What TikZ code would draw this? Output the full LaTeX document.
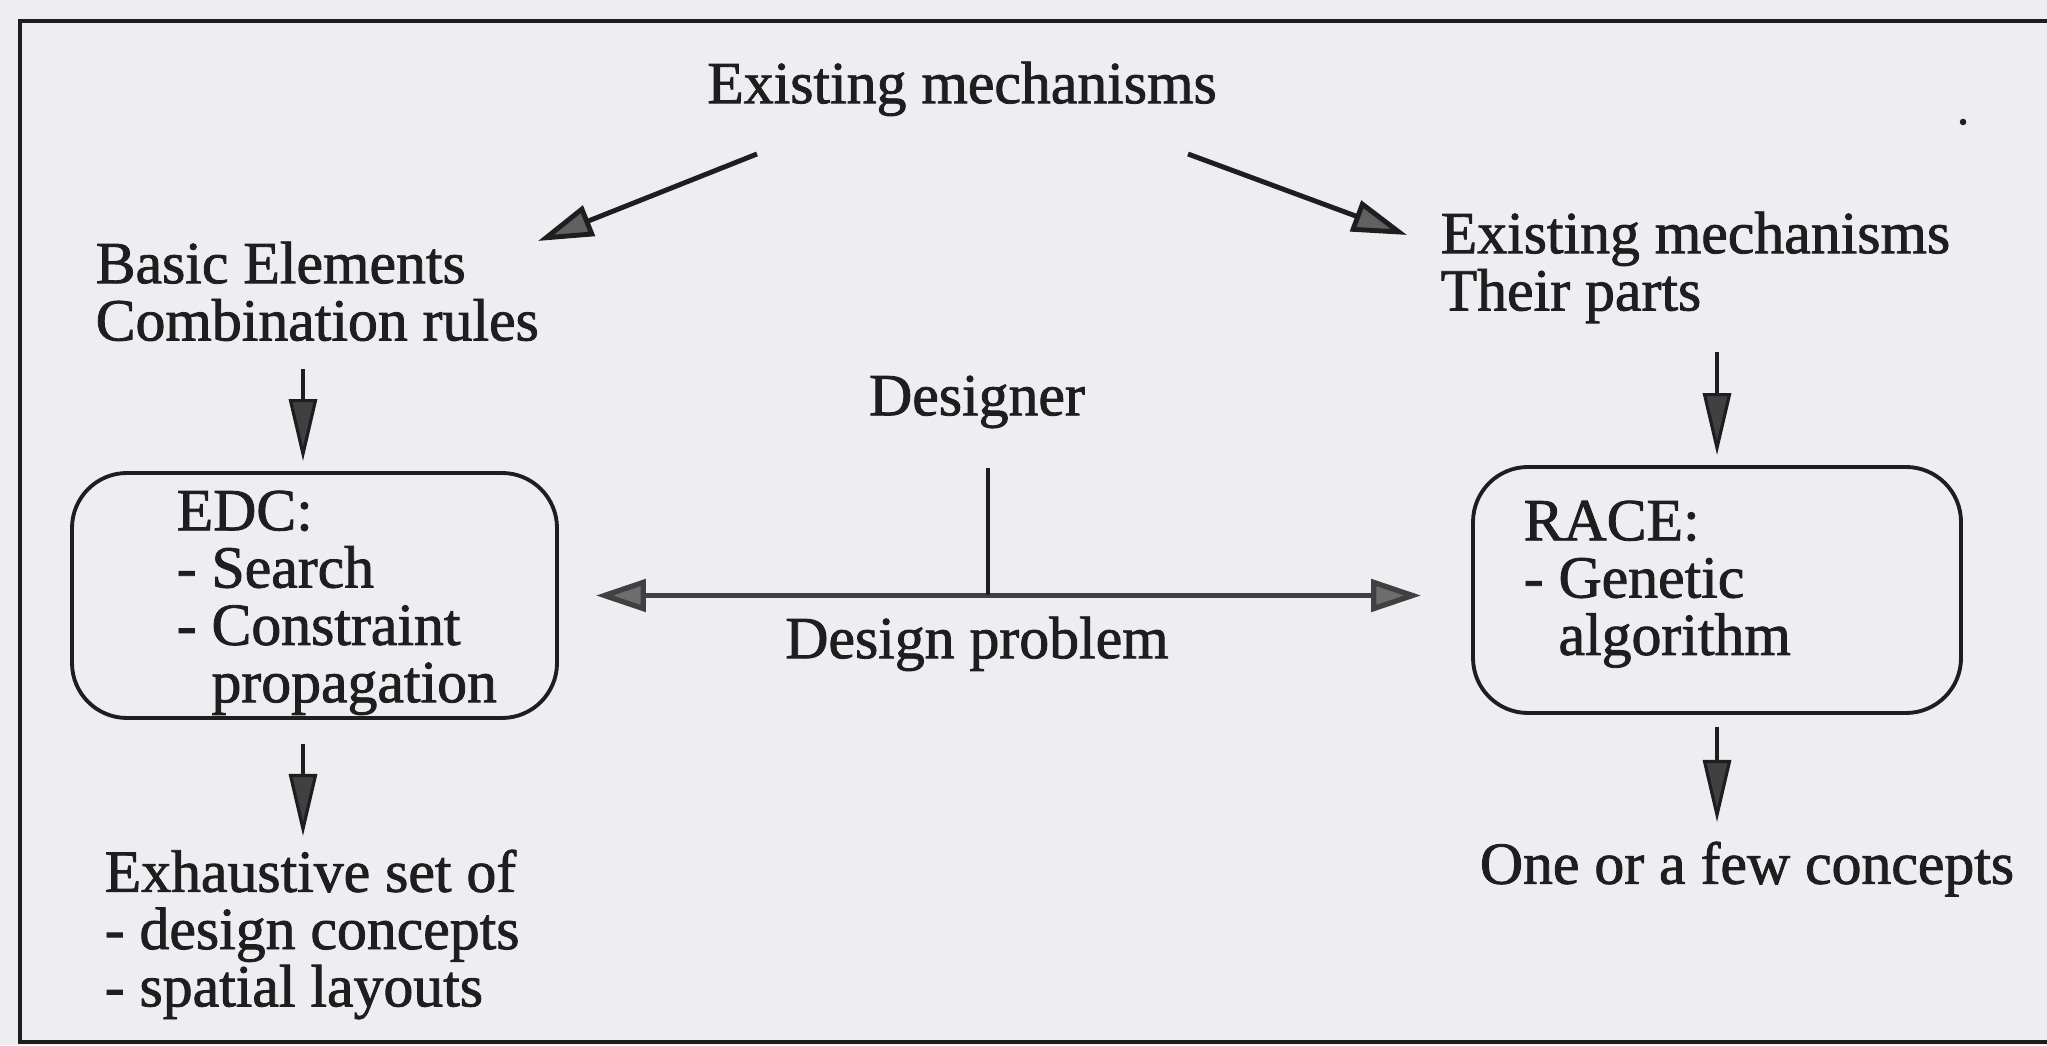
\documentclass[tikz,border=0pt]{standalone}
\usepackage{fontspec}
\setmainfont{Liberation Serif}[FakeBold=1.4]
\usepackage{tikz}
\usetikzlibrary{arrows.meta}
\definecolor{paper}{RGB}{238,238,242}
\definecolor{ink}{RGB}{30,30,30}

\begin{document}
\begin{tikzpicture}[
   txt/.style = {font=\fontsize{17}{16.3}\selectfont, text=ink, align=left, inner sep=0pt},
   box/.style = {draw=ink, line width=1.1pt, rounded corners=0.55cm},
   arr/.style = {draw=ink, line width=0.9pt, -{Triangle[length=0.62cm,width=0.28cm,fill=ink!85]}},
   slant/.style = {draw=ink, line width=1.4pt, -{Triangle[length=0.55cm,width=0.32cm,fill=ink!70]}},
   darr/.style = {draw=ink!85, line width=1.5pt, {Triangle[length=0.5cm,width=0.32cm,fill=ink!65]}-{Triangle[length=0.5cm,width=0.32cm,fill=ink!65]}}
]
   \fill[paper] (0,0) rectangle (20.47,10.45);
   \useasboundingbox (0,0) rectangle (20.47,10.45);
   \draw[ink, line width=1.2pt] (20.8,0.03) -- (0.2,0.03) -- (0.2,10.24) -- (20.8,10.24);
   \filldraw[ink] (19.63,9.23) circle (0.025);

   \node[txt, anchor=north] (top) at (9.62,9.84) {Existing mechanisms};
   \node[txt, anchor=north west] (basic) at (0.95,8.04) {Basic Elements\\Combination rules};
   \node[txt, anchor=north west] (parts) at (14.40,8.34) {Existing mechanisms\\Their parts};
   \node[txt, anchor=north] (designer) at (9.77,6.70) {Designer};
   \node[txt, anchor=north] (problem) at (9.77,4.29) {Design problem};

   \node[box, minimum width=4.85cm, minimum height=2.45cm] (edc) at (3.145,4.495) {};
   \node[txt, anchor=north west] (edctext) at (1.76,5.55) {EDC:\\- Search\\- Constraint\\\phantom{- }propagation};
   \node[box, minimum width=4.88cm, minimum height=2.46cm] (race) at (17.17,4.55) {};
   \node[txt, anchor=north west] (racetext) at (15.23,5.45) {RACE:\\- Genetic\\\phantom{- }algorithm};

   \node[txt, anchor=north west] (exh) at (1.04,1.96) {Exhaustive set of\\- design concepts\\- spatial layouts};
   \node[txt, anchor=north] (one) at (17.47,2.04) {One or a few concepts};

   \coordinate (tl) at (7.57,8.91);
   \coordinate (bl) at (5.38,8.04);
   \coordinate (tr) at (11.88,8.91);
   \coordinate (br) at (14.07,8.10);
   \draw[slant] (tl) -- (bl);
   \draw[slant] (tr) -- (br);

   \coordinate (e1) at (3.03,6.76);
   \draw[arr, shorten >=0.1cm] (e1) -- (e1 |- edc.north);
   \draw[arr, shorten >=0.13cm] ([yshift=-0.24cm]edc.south -| e1) -- (e1 |- exh.north);
   \coordinate (r1) at (17.17,6.93);
   \draw[arr, shorten >=0.1cm] (r1) -- (race.north);
   \draw[arr, shorten >=0.19cm] ([yshift=-0.12cm]race.south) -- (race.south |- one.north);

   \draw[darr, shorten <=0.37cm, shorten >=0.5cm] (edc.east) -- (edc.east -| race.west);
   \coordinate (hub) at ([xshift=0.11cm]designer.south |- edc.east);
   \draw[ink, line width=0.9pt] (hub) -- ++(0,1.27);
\end{tikzpicture}
\end{document}
